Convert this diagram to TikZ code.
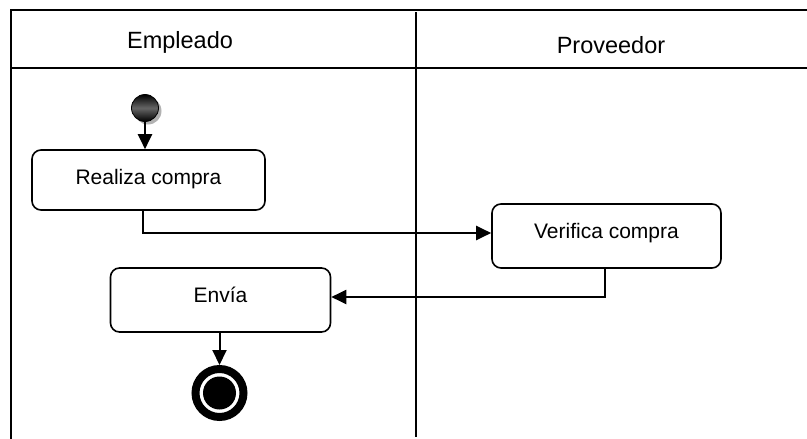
\documentclass[tikz,border=0pt]{standalone}
\usepackage{fontspec}
\setmainfont{Liberation Sans}
\usetikzlibrary{arrows.meta,shadows}
\begin{document}
\begin{tikzpicture}[x=1pt,y=-1pt,
  frame/.style={line width=2.4pt},
  act/.style={draw, line width=1.6pt, rounded corners=9pt, inner sep=0pt,
    font=\fontsize{21}{25}\selectfont, text height=16pt},
  flow/.style={line width=2pt, -{Triangle[length=15pt,width=14pt]}},
  lane/.style={font=\fontsize{23.5}{28}\selectfont, anchor=base}]
\useasboundingbox (0,0) rectangle (807,439);
% swimlane frame
\draw[frame] (10,10) -- (807,10);
\draw[frame] (11,10) -- (11,439);
\draw[frame] (11,68) -- (807,68);
\draw[frame] (416,12) -- (416,437);
\node[lane] (emp) at (180,48) {Empleado};
\node[lane] (prov) at (611,53) {Proveedor};
% nodes
\node[circle, minimum size=27pt, inner sep=0pt, draw=black, line width=0.8pt,
  top color=black, bottom color=black, middle color=gray!80!black,
  drop shadow={shadow xshift=3pt, shadow yshift=-3pt, fill=gray!60, opacity=1}] (start) at (145,108) {};
\node[act, minimum width=233pt, minimum height=60pt, text depth=8pt] (real) at (148.5,180) {Realiza compra};
\node[act, minimum width=229pt, minimum height=64pt, text depth=12pt] (ver) at (606.5,236) {Verifica compra};
\node[act, minimum width=220pt, minimum height=64pt, text depth=12pt] (env) at (220.5,300) {Envía};
\node[circle, minimum size=48pt, inner sep=0pt, draw=black, line width=8pt, fill=white,
  path picture={\fill[black] (path picture bounding box.center) circle (16.5pt);}] (end) at (219.5,393) {};
% connectors
\draw[flow] (start.south) -- (start.south |- real.north);
\draw[flow] ([xshift=-5.5pt]real.south) |- ([yshift=3pt]ver.west);
\draw[flow] ([xshift=-2pt]ver.south) |- ([yshift=3pt]env.east);
\draw[flow] (env.south -| end.north) -- (end.north);
\end{tikzpicture}
\end{document}
